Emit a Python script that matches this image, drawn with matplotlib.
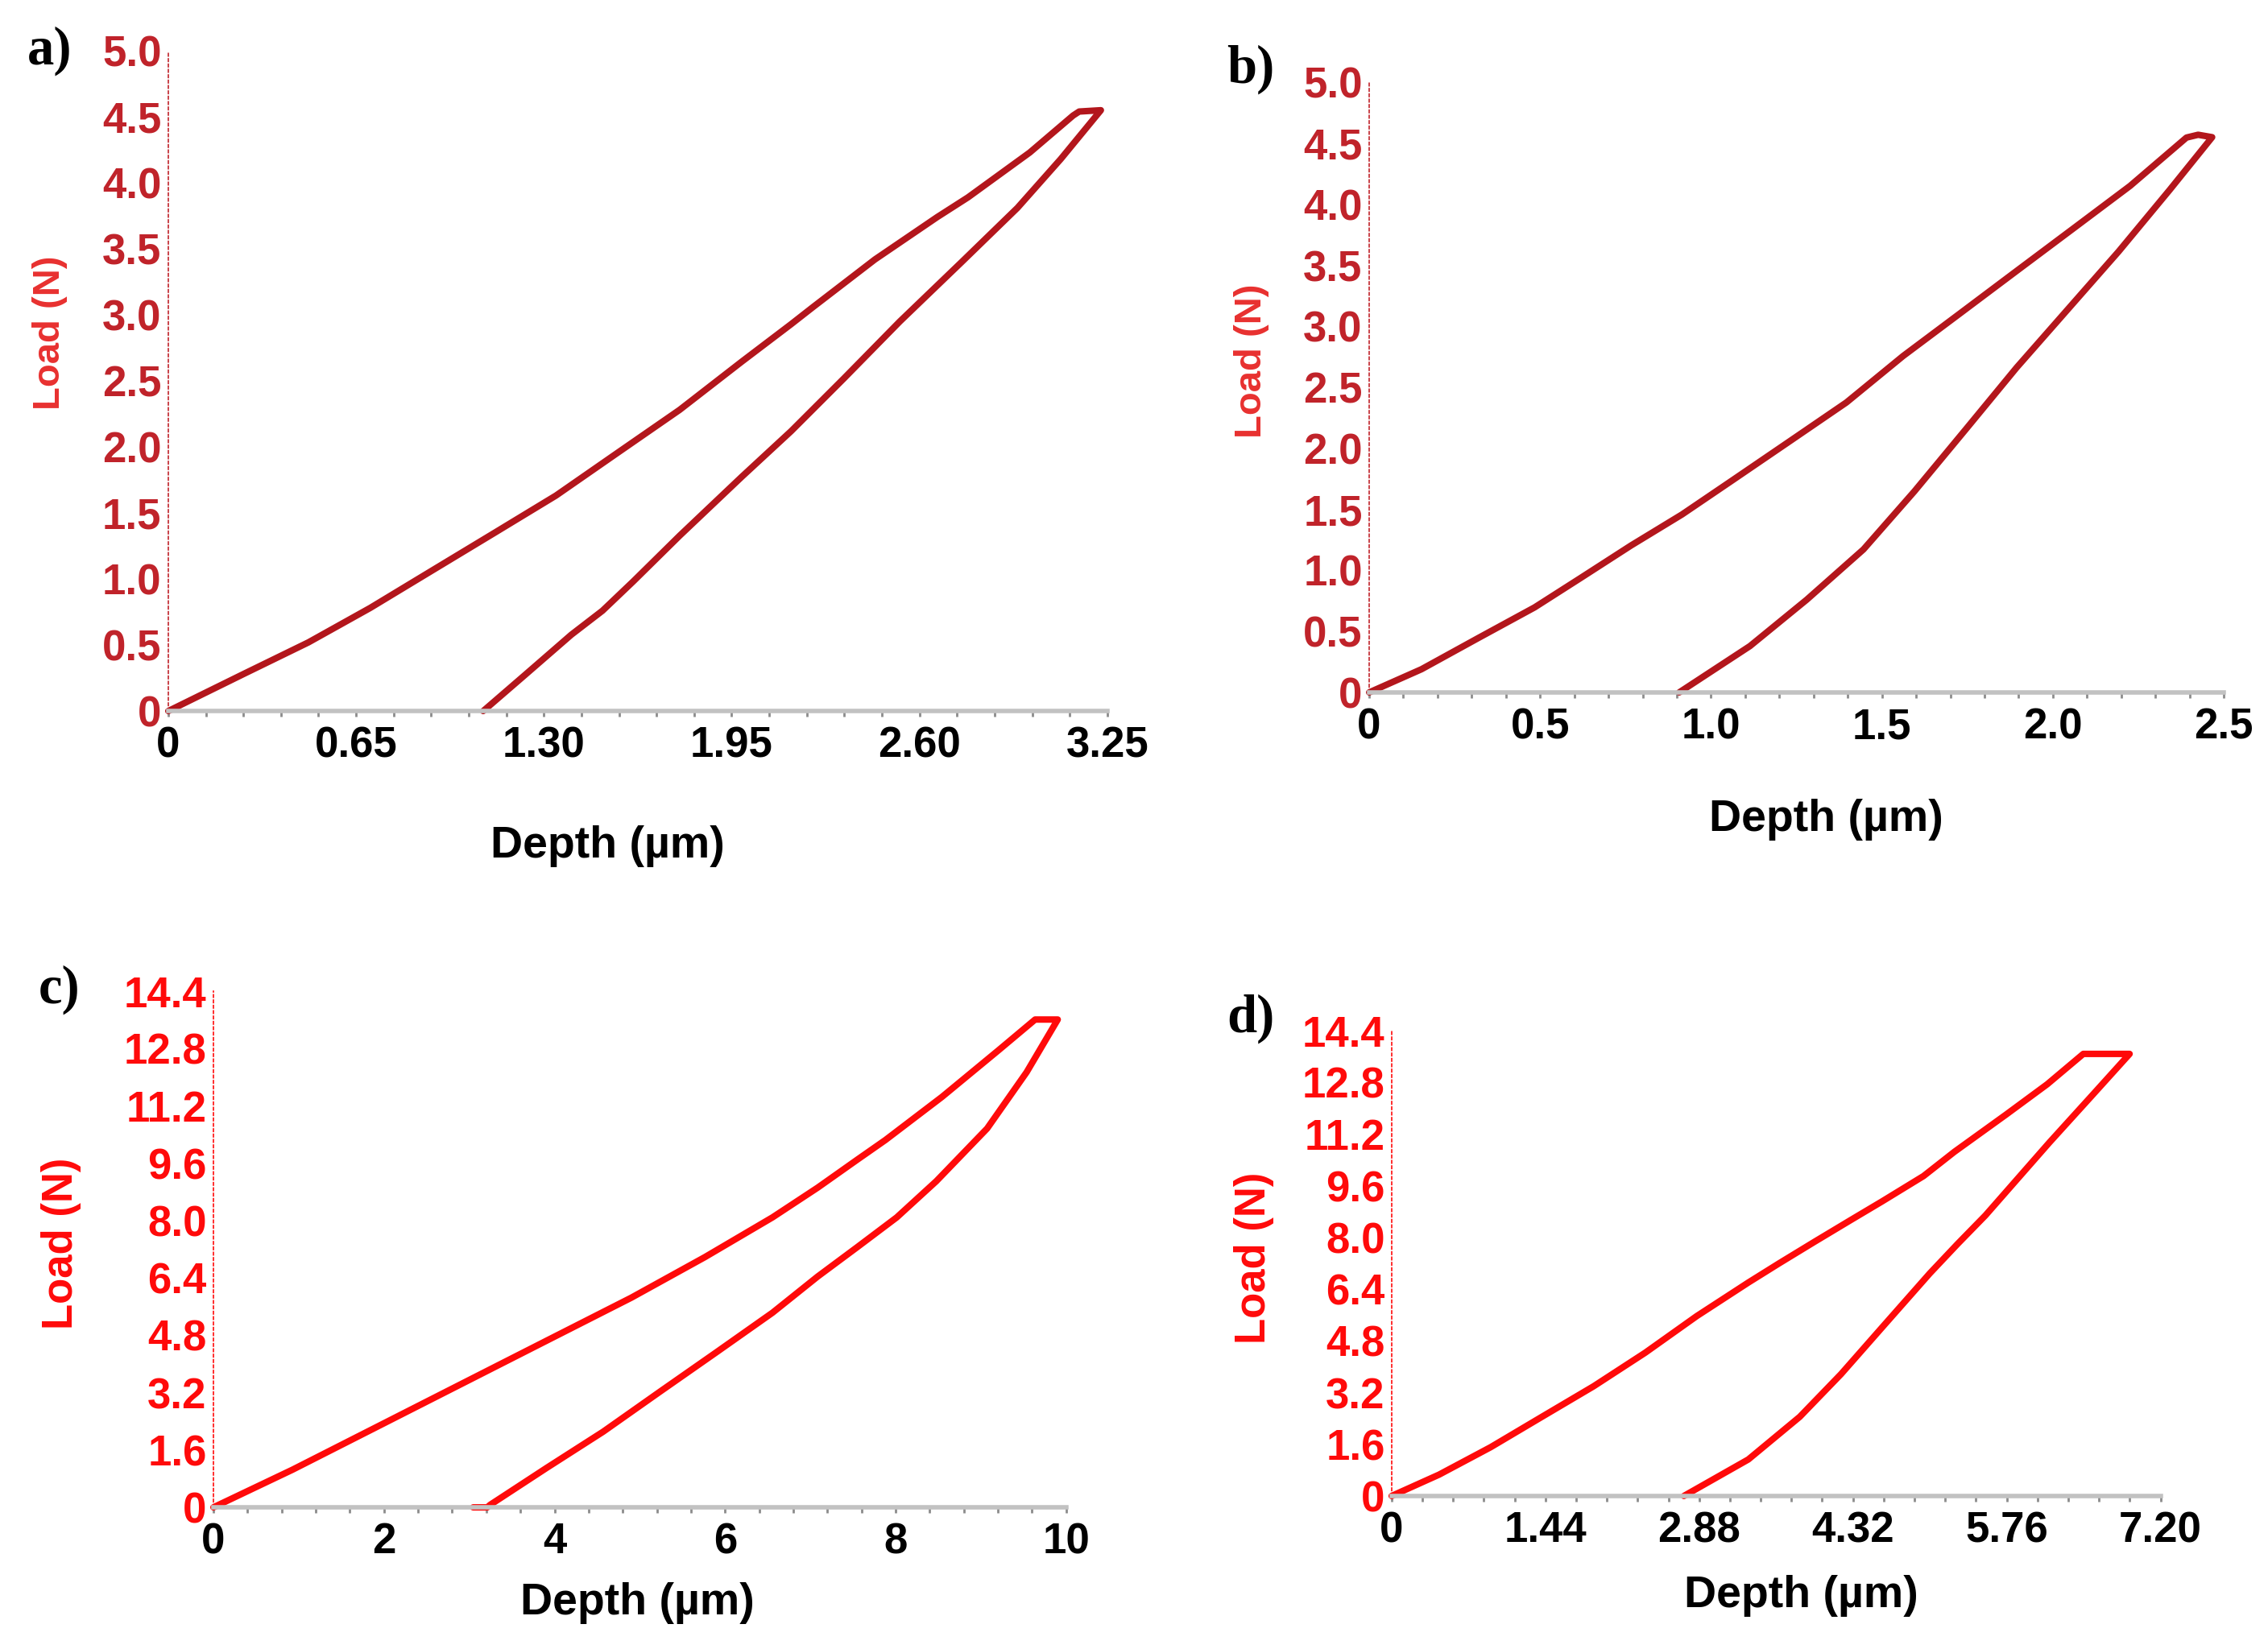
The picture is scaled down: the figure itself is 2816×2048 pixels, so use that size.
import matplotlib
matplotlib.use("Agg")
import matplotlib.pyplot as plt
from matplotlib.ticker import MultipleLocator

# ---- data (depth in um, load in N) ----
# loading branch, then hold at peak load, then unloading branch
a_load_x = [0, 0.261, 0.485, 0.699, 0.913, 1.128, 1.342, 1.556, 1.770, 1.985, 2.156,
            2.232, 2.446, 2.661, 2.768, 2.982, 3.132, 3.153]
a_load_y = [0, 0.281, 0.52, 0.781, 1.064, 1.348, 1.632, 1.957, 2.281, 2.646, 2.93,
            3.06, 3.42, 3.74, 3.89, 4.23, 4.51, 4.54]
a_unload_x = [3.228, 3.089, 2.939, 2.746, 2.532, 2.339, 2.156, 1.985, 1.877, 1.770,
              1.610, 1.503, 1.395, 1.235, 1.090]
a_unload_y = [4.55, 4.18, 3.81, 3.40, 2.95, 2.52, 2.12, 1.774, 1.55, 1.328,
              0.983, 0.760, 0.578, 0.274, 0]

b_load_x = [0, 0.153, 0.318, 0.484, 0.617, 0.766, 0.915, 1.065, 1.231, 1.396, 1.562,
            1.728, 1.894, 2.060, 2.226, 2.391, 2.425]
b_load_y = [0, 0.190, 0.444, 0.697, 0.935, 1.204, 1.458, 1.743, 2.060, 2.376, 2.757,
            3.105, 3.454, 3.802, 4.151, 4.547, 4.57]
b_unload_x = [2.466, 2.342, 2.192, 2.043, 1.894, 1.745, 1.595, 1.446, 1.280, 1.114, 0.907]
b_unload_y = [4.55, 4.119, 3.612, 3.137, 2.662, 2.155, 1.648, 1.172, 0.760, 0.380, 0]

c_load_x = [0, 0.927, 1.921, 2.914, 3.907, 4.901, 5.762, 6.556, 7.086, 7.550, 7.881,
            8.543, 9.205, 9.636]
c_load_y = [0, 1.05, 2.25, 3.45, 4.65, 5.85, 6.98, 8.09, 8.92, 9.70, 10.25,
            11.45, 12.75, 13.61]
c_unload_x = [9.901, 9.536, 9.073, 8.477, 8.013, 7.550, 7.086, 6.556, 5.894, 5.232,
              4.570, 3.907, 3.245, 3.212, 3.046]
c_unload_y = [13.61, 12.14, 10.57, 9.10, 8.09, 7.26, 6.44, 5.43, 4.32, 3.22,
              2.11, 1.10, 0.07, 0, 0]

d_load_x = [0, 0.444, 0.927, 1.409, 1.892, 2.375, 2.857, 3.340, 3.629, 3.967, 4.305,
            4.595, 4.981, 5.270, 5.753, 6.139, 6.477]
d_load_y = [0, 0.660, 1.509, 2.453, 3.396, 4.434, 5.566, 6.604, 7.20, 7.88, 8.55,
            9.12, 9.90, 10.65, 11.80, 12.74, 13.68]
d_unload_x = [6.911, 6.55, 6.16, 5.56, 5.30, 5.04, 4.61, 4.208, 3.822, 3.340, 2.737]
d_unload_y = [13.68, 12.36, 10.94, 8.68, 7.80, 6.89, 5.28, 3.77, 2.45, 1.13, 0]

a_xticks = ["0", "0.65", "1.30", "1.95", "2.60", "3.25"]
b_xticks = ["0", "0.5", "1.0", "1.5", "2.0", "2.5"]
c_xticks = ["0", "2", "4", "6", "8", "10"]
d_xticks = ["0", "1.44", "2.88", "4.32", "5.76", "7.20"]
ab_yticks = ["0", "0.5", "1.0", "1.5", "2.0", "2.5", "3.0", "3.5", "4.0", "4.5", "5.0"]
cd_yticks = ["0", "1.6", "3.2", "4.8", "6.4", "8.0", "9.6", "11.2", "12.8", "14.4"]

DARK_RED = "#b3161c"
RED = "#ff0a0a"
SANS = "Liberation Sans"


def panel(fig, rect, tag, lx, ly, ux, uy, xmax, xticks, ymax, yticks,
          color, tick_color, label_color, tag_xy, load_xy, load_size, depth_xy):
    ax = fig.add_axes(rect)
    xs = list(lx) + list(ux)
    ys = list(ly) + list(uy)
    ax.plot(xs, ys, color=color, lw=2.9, solid_joinstyle="round",
            solid_capstyle="round", clip_on=False)

    ax.set_xlim(0, xmax)
    ax.set_ylim(0, ymax)
    n = len(xticks) - 1
    ax.set_xticks([xmax * i / n for i in range(n + 1)])
    ax.set_xticklabels(xticks)
    ax.xaxis.set_minor_locator(MultipleLocator(xmax / n / 5))
    m = len(yticks) - 1
    ax.set_yticks([ymax * i / m for i in range(m + 1)])
    ax.set_yticklabels(yticks)

    for s in ["top", "right"]:
        ax.spines[s].set_visible(False)
    ax.spines["bottom"].set_color("#c2c2c2")
    ax.spines["bottom"].set_linewidth(2.0)
    ax.spines["left"].set_color(tick_color)
    ax.spines["left"].set_linewidth(0.6)
    ax.spines["left"].set_linestyle((0, (2, 2)))

    ax.tick_params(axis="x", which="both", direction="out", color="#8c8c8c",
                   length=2.5, width=1.0, pad=4)
    ax.tick_params(axis="y", length=0, pad=3)
    for t in ax.get_xticklabels():
        t.set_fontfamily(SANS)
        t.set_fontweight("bold")
        t.set_fontsize(19)
        t.set_color("black")
    for t in ax.get_yticklabels():
        t.set_fontfamily(SANS)
        t.set_fontweight("bold")
        t.set_fontsize(19)
        t.set_color(tick_color)

    fig.text(load_xy[0], load_xy[1], "Load (N)", rotation=90,
             ha="center", va="center", fontsize=load_size, fontweight="bold",
             color=label_color, family=SANS)
    fig.text(depth_xy[0], depth_xy[1], "Depth (\u00b5m)",
             ha="center", va="center", fontsize=20, fontweight="bold",
             color="black", family=SANS)
    fig.text(tag_xy[0], tag_xy[1], tag, ha="left", va="center",
             fontsize=24, fontweight="bold", family="Liberation Serif")
    return ax


fig = plt.figure(figsize=(14.08, 10.24), dpi=200)

panel(fig, [0.0742, 0.5688, 0.414, 0.4004], "a)", a_load_x, a_load_y,
      a_unload_x, a_unload_y, 3.25, a_xticks, 5.0, ab_yticks,
      DARK_RED, "#c0232a", "#e8302f", (0.012, 0.969), (0.022, 0.798), 17,
      (0.268, 0.487))
panel(fig, [0.6037, 0.5801, 0.3768, 0.370], "b)", b_load_x, b_load_y,
      b_unload_x, b_unload_y, 2.5, b_xticks, 5.0, ab_yticks,
      DARK_RED, "#c0232a", "#e8302f", (0.541, 0.958), (0.552, 0.781), 17,
      (0.805, 0.503))
panel(fig, [0.0941, 0.0859, 0.376, 0.313], "c)", c_load_x, c_load_y,
      c_unload_x, c_unload_y, 10, c_xticks, 14.4, cd_yticks,
      RED, RED, RED, (0.017, 0.400), (0.027, 0.246), 19,
      (0.281, 0.028))
panel(fig, [0.6136, 0.0928, 0.339, 0.2822], "d)", d_load_x, d_load_y,
      d_unload_x, d_unload_y, 7.2, d_xticks, 14.4, cd_yticks,
      RED, RED, RED, (0.541, 0.382), (0.553, 0.237), 19,
      (0.794, 0.032))

fig.savefig("out.png", dpi=200, facecolor="white")
